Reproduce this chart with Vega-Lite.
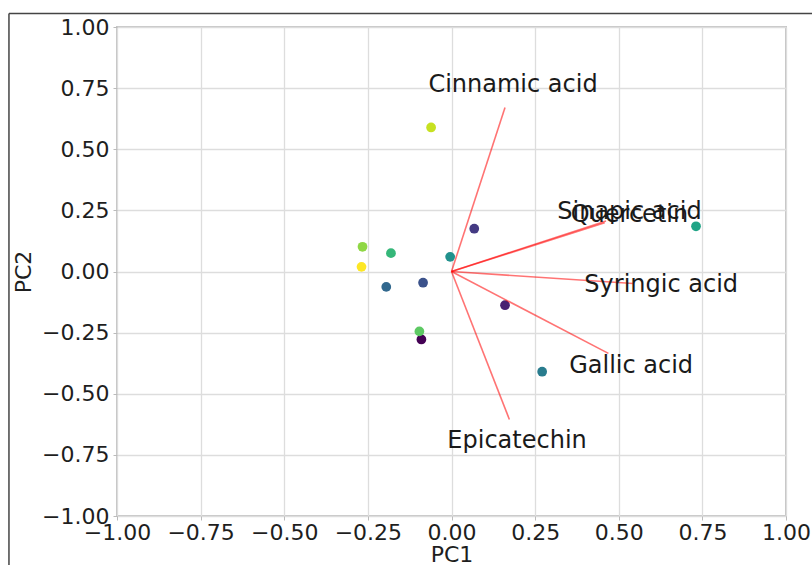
{
  "$schema": "https://vega.github.io/schema/vega-lite/v6.json",
  "autosize": "none",
  "width": 669,
  "height": 489,
  "padding": {"left": 117, "top": 27, "right": 26, "bottom": 49},
  "background": "white",
  "config": {
    "font": "DejaVu Sans",
    "view": {"stroke": "#c4c4c4", "strokeWidth": 2},
    "axis": {
      "labelFont": "DejaVu Sans",
      "labelFontSize": 22,
      "labelColor": "#1e1e1e",
      "titleFont": "DejaVu Sans",
      "titleFontSize": 22,
      "titleFontWeight": "normal",
      "titleColor": "#1e1e1e",
      "gridColor": "#dddddd",
      "gridWidth": 1.3,
      "domain": false,
      "tickColor": "#bbbbbb",
      "tickSize": 4,
      "labelFlush": false,
      "labelOverlap": false
    }
  },
  "datasets": {
    "scores": [
      {"PC1": -0.09, "PC2": -0.278, "c": 0},
      {"PC1": 0.160, "PC2": -0.138, "c": 1},
      {"PC1": 0.068, "PC2": 0.175, "c": 2},
      {"PC1": -0.085, "PC2": -0.046, "c": 3},
      {"PC1": -0.195, "PC2": -0.063, "c": 4},
      {"PC1": 0.271, "PC2": -0.410, "c": 5},
      {"PC1": -0.004, "PC2": 0.060, "c": 6},
      {"PC1": 0.731, "PC2": 0.185, "c": 7},
      {"PC1": -0.181, "PC2": 0.075, "c": 8},
      {"PC1": -0.096, "PC2": -0.245, "c": 9},
      {"PC1": -0.266, "PC2": 0.101, "c": 10},
      {"PC1": -0.061, "PC2": 0.589, "c": 11},
      {"PC1": -0.269, "PC2": 0.019, "c": 12}
    ],
    "loadings": [
      {"name": "Cinnamic acid", "ox": 0, "oy": 0, "lx": 0.160, "ly": 0.671, "tx": 0.184, "ty": 0.733},
      {"name": "Sinapic acid", "ox": 0, "oy": 0, "lx": 0.462, "ly": 0.207, "tx": 0.532, "ty": 0.213},
      {"name": "Quercetin", "ox": 0, "oy": 0, "lx": 0.458, "ly": 0.199, "tx": 0.532, "ty": 0.202},
      {"name": "Syringic acid", "ox": 0, "oy": 0, "lx": 0.543, "ly": -0.049, "tx": 0.627, "ty": -0.082},
      {"name": "Gallic acid", "ox": 0, "oy": 0, "lx": 0.469, "ly": -0.335, "tx": 0.537, "ty": -0.414},
      {"name": "Epicatechin", "ox": 0, "oy": 0, "lx": 0.173, "ly": -0.605, "tx": 0.196, "ty": -0.721}
    ],
    "frame": [
      {"fx": -1.323, "fy": 1.055, "fx2": 1.3, "fy2": 1.055},
      {"fx": -1.323, "fy": 1.055, "fx2": -1.323, "fy2": -1.3}
    ]
  },
  "layer": [
    {
      "data": {"name": "scores"},
      "mark": {"type": "point", "filled": true, "opacity": 1, "size": 95, "shape": "circle"},
      "encoding": {
        "x": {
          "field": "PC1", "type": "quantitative", "title": "PC1",
          "scale": {"domain": [-1, 1], "nice": false, "zero": false},
          "axis": {"values": [-1, -0.75, -0.5, -0.25, 0, 0.25, 0.5, 0.75, 1], "format": ".2f", "labelPadding": 2, "titlePadding": 1}
        },
        "y": {
          "field": "PC2", "type": "quantitative", "title": "PC2",
          "scale": {"domain": [-1, 1], "nice": false, "zero": false},
          "axis": {"values": [-1, -0.75, -0.5, -0.25, 0, 0.25, 0.5, 0.75, 1], "format": ".2f", "labelPadding": 4, "titlePadding": 6}
        },
        "color": {"field": "c", "type": "quantitative", "scale": {"scheme": "viridis", "domain": [0, 12]}, "legend": null}
      }
    },
    {
      "data": {"name": "frame"},
      "mark": {"type": "rule", "clip": false, "color": "#444444", "strokeWidth": 1.5},
      "encoding": {
        "x": {"field": "fx", "type": "quantitative"},
        "y": {"field": "fy", "type": "quantitative"},
        "x2": {"field": "fx2"},
        "y2": {"field": "fy2"}
      }
    },
    {
      "data": {"name": "loadings"},
      "mark": {"type": "rule", "color": "#ff0000", "opacity": 0.55, "strokeWidth": 1.6},
      "encoding": {
        "x": {"field": "ox", "type": "quantitative"},
        "y": {"field": "oy", "type": "quantitative"},
        "x2": {"field": "lx"},
        "y2": {"field": "ly"}
      }
    },
    {
      "data": {"name": "loadings"},
      "mark": {"type": "text", "fontSize": 24, "font": "DejaVu Sans", "color": "#1a1a1a", "align": "center", "baseline": "alphabetic"},
      "encoding": {
        "x": {"field": "tx", "type": "quantitative"},
        "y": {"field": "ty", "type": "quantitative"},
        "text": {"field": "name"}
      }
    }
  ]
}
